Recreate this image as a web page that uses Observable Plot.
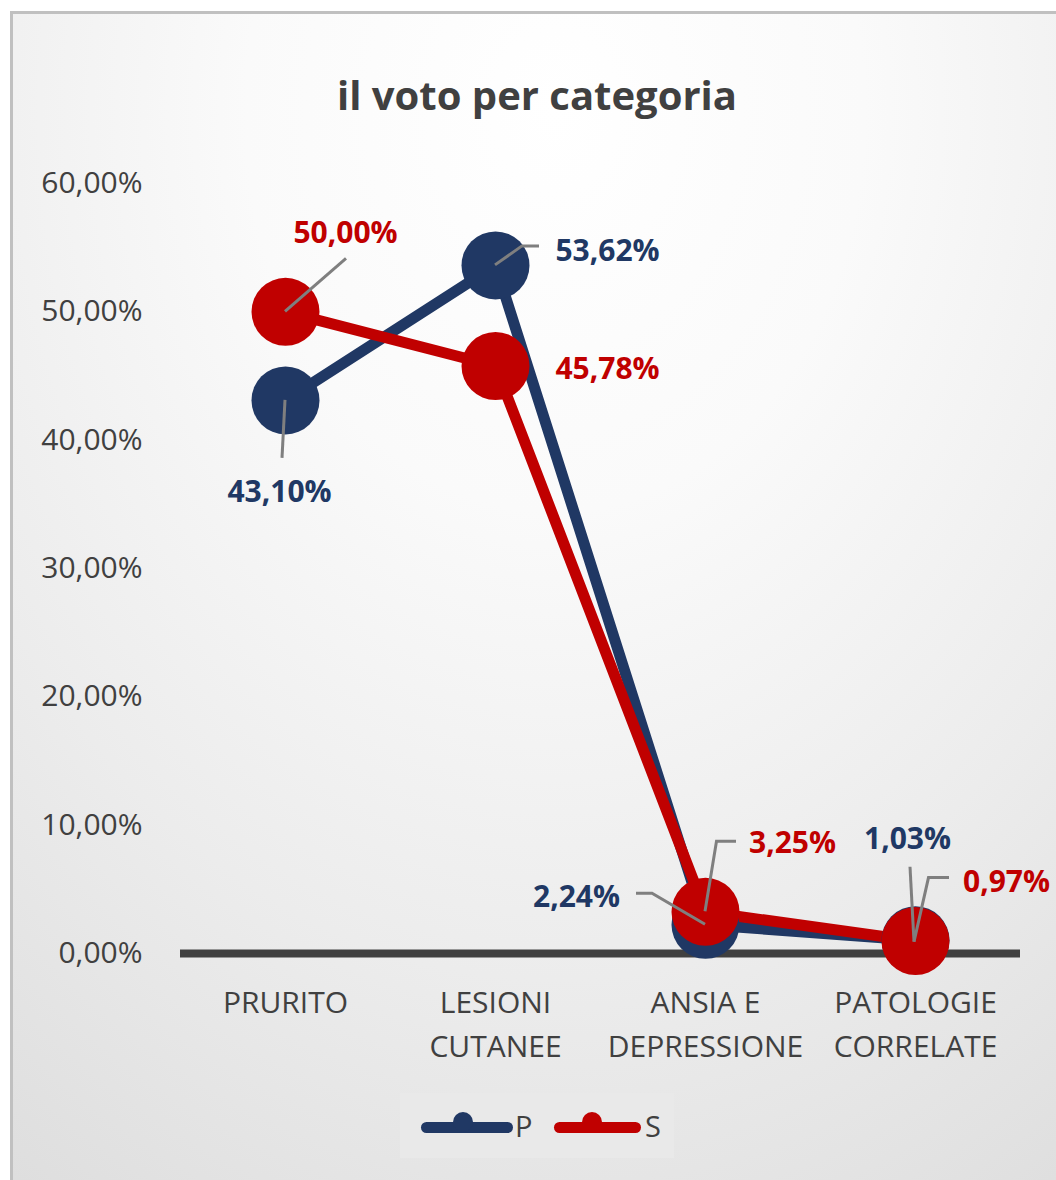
<!DOCTYPE html>
<html>
<head>
<meta charset="utf-8">
<script src="https://cdn.jsdelivr.net/npm/d3@7"></script>
<script src="https://cdn.jsdelivr.net/npm/@observablehq/plot@0.6"></script>
<style>
  html, body { margin: 0; padding: 0; background: #ffffff; width: 1056px; height: 1180px; overflow: hidden; font-family: "Open Sans", sans-serif; }
  #frame { position: absolute; left: 10px; top: 11px; width: 1090px; height: 1220px; box-sizing: border-box;
    border: 3px solid #c0c0c0;
    background: radial-gradient(ellipse 95% 110% at 50% 8%, #ffffff 0%, #fafafa 30%, #ececec 65%, #dcdcdc 100%); }
  #title { position: absolute; left: 0; width: 1074px; top: 75px; text-align: center; font-weight: 700; font-size: 40px; line-height: 40px; color: #404040; }
  #chart { position: absolute; left: 0; top: 140px; }
  #legend { position: absolute; left: 400px; top: 1093px; width: 274px; height: 65px; background: #e9e9e9; }
  .lline { position: absolute; height: 11px; border-radius: 5.5px; top: 29px; }
  .ldot { position: absolute; width: 20px; height: 20px; border-radius: 10px; top: 19px; }
  .ltxt { position: absolute; top: 18px; font-size: 29px; line-height: 29px; color: #404040; }
</style>
</head>
<body>
<div id="frame"></div>
<div id="title">il voto per categoria</div>
<div id="chart"></div>
<div id="legend"></div>
<script>
// ---- data ----
const categories = ["PRURITO", "LESIONI\nCUTANEE", "ANSIA E\nDEPRESSIONE", "PATOLOGIE\nCORRELATE"];
const seriesNames = ["P", "S"];
const valuesP = [0.4310, 0.5362, 0.0224, 0.0103];
const valuesS = [0.5000, 0.4578, 0.0325, 0.0097];
const yTicks = [0, 0.1, 0.2, 0.3, 0.4, 0.5, 0.6];

// ---- styling / layout ----
const colors = { P: "#203864", S: "#C00000" };
const labelOffsets = {
  P: [[-6, 92], [112, -14], [-129, -27], [-8, -101]],
  S: [[60, -78], [112, 3], [87, -68], [91, -59]]
};
const leaderPaths = {
  P: [[[0, 0], [-3, 58]], [[0, 0], [27, -19], [44, -19]], [[0, 0], [-53, -31], [-69, -31]], [[-1, 2], [-5, -73]]],
  S: [[[0, 0], [61, -53]], null, [[0, 0], [11.5, -70], [31, -70]], [[-1, 1], [13.5, -63], [34, -63]]]
};

const fmt = v => (v * 100).toFixed(2).replace(".", ",") + "%";

const rows = [];
seriesNames.forEach(s => {
  const vals = s === "P" ? valuesP : valuesS;
  categories.forEach((c, i) => rows.push({ series: s, cat: c, value: vals[i], i }));
});
const rowsP = rows.filter(d => d.series === "P");
const rowsS = rows.filter(d => d.series === "S");

const leaderMark = (index, scales) => {
  const g = d3.create("svg:g").attr("fill", "none").attr("stroke", "#7f7f7f").attr("stroke-width", 3);
  rows.forEach(d => {
    const p = leaderPaths[d.series][d.i];
    if (!p) return;
    const cx = scales.x(d.cat), cy = scales.y(d.value);
    g.append("path").attr("d", d3.line()(p.map(([dx, dy]) => [cx + dx, cy + dy])));
  });
  return g.node();
};

const labelMarks = rows.map(d => Plot.text([d], {
  x: "cat", y: "value", text: r => fmt(r.value),
  dx: labelOffsets[d.series][d.i][0], dy: labelOffsets[d.series][d.i][1],
  fill: colors[d.series], fontSize: 30, fontWeight: "bold"
}));

const chart = Plot.plot({
  width: 1056,
  height: 933,
  marginLeft: 180,
  marginRight: 36,
  marginTop: 43,
  marginBottom: 120,
  style: { background: "transparent", fontFamily: "Open Sans", overflow: "visible" },
  x: { type: "point", domain: categories, padding: 0.5, label: null },
  y: { domain: [0, 0.6], label: null },
  marks: [
    Plot.axisY({ ticks: yTicks, tickSize: 0, tickPadding: 38, tickFormat: fmt, fontSize: 30, color: "#404040", label: null }),
    Plot.axisX({ tickSize: 0, tickPadding: 28, fontSize: 30, lineHeight: 1.47, color: "#404040", label: null }),
    Plot.ruleY([0], { stroke: "#404040", strokeWidth: 8 }),
    Plot.line(rowsP, { x: "cat", y: "value", stroke: colors.P, strokeWidth: 11, strokeLinejoin: "round" }),
    Plot.line(rowsS, { x: "cat", y: "value", stroke: colors.S, strokeWidth: 11, strokeLinejoin: "round" }),
    Plot.dot(rowsP, { x: "cat", y: "value", r: 34, fill: colors.P, stroke: null }),
    Plot.dot(rowsS, { x: "cat", y: "value", r: 34, fill: colors.S, stroke: null }),
    leaderMark,
    ...labelMarks
  ]
});
document.getElementById("chart").appendChild(chart);

// ---- legend ----
const legend = document.getElementById("legend");
const legendItems = [
  { name: "P", lineLeft: 21, lineW: 92, dotLeft: 53, txtLeft: 115 },
  { name: "S", lineLeft: 154, lineW: 87, dotLeft: 182, txtLeft: 245 }
];
legendItems.forEach(it => {
  const l = document.createElement("div");
  l.className = "lline"; l.style.left = it.lineLeft + "px"; l.style.width = it.lineW + "px"; l.style.background = colors[it.name];
  const c = document.createElement("div");
  c.className = "ldot"; c.style.left = it.dotLeft + "px"; c.style.background = colors[it.name];
  const t = document.createElement("div");
  t.className = "ltxt"; t.style.left = it.txtLeft + "px"; t.textContent = it.name;
  legend.append(l, c, t);
});
</script>
</body>
</html>
